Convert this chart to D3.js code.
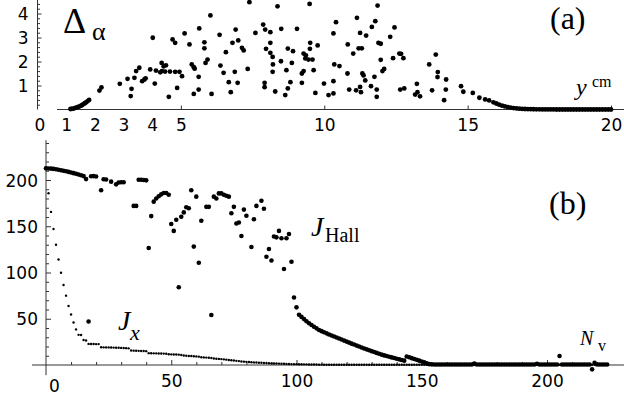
<!DOCTYPE html>
<html><head><meta charset="utf-8">
<script src="https://cdn.jsdelivr.net/npm/d3@7"></script>
<style>
body{margin:0;background:#fff;}
svg{display:block;}
.tick text{font-family:"DejaVu Sans",sans-serif;font-size:17px;fill:#000;}
.lbl{font-family:"Liberation Serif","Times New Roman",serif;fill:#000;}
</style></head>
<body>
<svg id="c" width="624" height="396"></svg>
<script>
// ---------- DATA ----------
// Panel (a): Delta_alpha vs y (cm)
const deltaPts = [
 [1.15,0.02],[1.2,0.03],[1.25,0.04],[1.3,0.06],[1.35,0.08],[1.4,0.1],[1.45,0.12],[1.5,0.15],[1.55,0.18],[1.6,0.22],[1.65,0.26],[1.7,0.3],[1.75,0.35],[1.8,0.4],
 [2.16,0.79],[2.23,0.92],[2.87,1.07],[3.14,1.28],[3.28,0.86],[3.25,0.56],[3.38,1.32],[3.44,1.6],[3.55,1.74],[3.65,1.18],[3.73,1.25],[3.77,1.3],
 [3.93,1.67],[4.02,2.99],[4.09,1.08],[4.13,1.62],[4.28,1.55],[4.33,1.94],[4.34,1.6],[4.4,1.8],[4.45,1.58],[4.48,1.84],[4.58,0.53],[4.62,1.58],
 [4.71,2.92],[4.8,2.78],[4.8,1.57],[4.87,0.9],[4.95,1.57],[5.04,1.39],[5.13,3.17],[5.3,2.71],[5.38,1.88],[5.45,1.76],[5.48,1.7],[5.45,0.65],
 [5.62,1.36],[5.62,0.83],[5.64,3.38],[5.82,2.8],[5.82,2.55],[5.86,1.94],[5.93,2.08],[6.03,3.92],[6.07,0.65],[6.35,3.11],[6.38,1.83],[6.49,1.53],
 [6.57,2.39],[6.67,1.14],[6.74,0.72],[6.8,2.78],[6.88,1.57],[6.91,3.33],[6.98,1.11],[7.0,2.88],[7.13,2.57],[7.19,2.46],[7.33,1.69],[7.39,4.47],
 [7.6,3.19],[7.87,3.54],[7.92,1.11],[7.92,0.93],[7.94,3.33],[7.97,2.53],[8.12,3.22],[8.12,2.78],[8.12,2.36],[8.2,2.19],[8.21,1.88],[8.2,1.57],
 [8.29,0.75],[8.37,4.3],[8.49,2.01],[8.5,3.36],[8.64,0.6],[8.68,1.64],[8.73,2.54],[8.73,0.88],[8.82,1.14],[8.87,1.94],[8.91,2.43],[9.05,3.36],
 [9.22,1.11],[9.22,1.5],[9.28,1.6],[9.28,2.33],[9.34,2.13],[9.36,2.25],[9.45,2.08],[9.49,4.4],[9.5,2.53],[9.51,2.78],[9.59,2.08],[9.63,1.64],
 [9.69,0.69],[9.77,2.67],[9.99,1.08],[10.15,0.6],[10.32,0.67],[10.32,1.18],[10.32,3.17],[10.41,3.64],[10.35,1.88],[10.53,1.81],[10.82,2.71],
 [10.81,1.5],[10.87,0.83],[11.01,2.33],[11.11,0.8],[11.14,3.82],[11.2,2.55],[11.25,0.94],[11.28,0.72],[11.25,3.19],[11.31,2.55],[11.33,1.5],
 [11.37,1.42],[11.43,1.21],[11.46,3.08],[11.63,0.97],[11.66,3.44],[11.75,1.36],[11.78,3.68],[11.83,0.83],[11.83,0.53],[11.86,4.33],[11.89,2.78],
 [11.97,2.74],[11.97,2.07],[12.03,1.6],[12.09,1.69],[12.3,3.03],[12.4,2.14],[12.45,3.42],[12.62,2.33],[12.68,2.32],[12.76,2.14],[12.65,0.83],
 [12.79,0.88],[13.23,1.07],[13.17,0.62],[13.25,0.72],[13.34,0.55],[13.66,1.88],[13.76,0.8],[13.89,2.29],[13.96,1.56],[13.95,1.35],[14.25,1.25],
 [14.24,0.83],[14.18,0.39],[14.77,0.97],[14.85,0.74],[15.18,0.69],[15.41,0.49],[15.61,0.42],[15.75,0.38],
 [15.9,0.3],[16.0,0.25],[16.1,0.2],[16.2,0.16],[16.3,0.13],[16.4,0.1],[16.5,0.08],[16.6,0.06],[16.7,0.045],[16.8,0.035],[16.9,0.025],[17.0,0.02],
 [17.1,0.015],[17.2,0.012],[17.3,0.01],[17.4,0.008],[17.5,0.006],[17.6,0.005],[17.7,0.004],[17.8,0.003],[17.9,0.002],[18.0,0.002],[18.1,0.001],
 [18.2,0.001],[18.3,0.001],[18.4,0],[18.5,0],[18.6,0],[18.7,0],[18.8,0],[18.9,0],[19.0,0],[19.1,0],[19.2,0],[19.3,0],[19.4,0],[19.5,0],
 [19.6,0],[19.7,0],[19.8,0],[19.9,0],[20.0,0]
];
// Panel (b): J_Hall and J_x vs N_v (index = N_v)
const hallVals = [
 212.6,212.5,212.3,212.0,211.6,211.1,210.6,210.0,209.4,208.8,208.1,207.4,206.7,205.9,205.1,204.2,201.0,47,204.0,204.2,
 203.8,null,189,200.8,200.6,null,198.2,null,195.3,197.3,197.6,197.5,null,null,null,172,172,200.2,200.2,200,
 199.6,126.5,161,176.6,180,182.5,184.5,186,186,184,152.4,145,157,84,160.3,165,170.5,169.5,189,128,
 182,110.5,156,null,171,171,54,182,180,185.5,185.5,184,183,182,164,171,153,154,139.5,168,
 161.4,null,127.6,157.5,172,null,177.6,169,117,125.4,113,139,138,145,137,103.8,137,141.6,111.7,73,
 62.3,54.4,52,49.6,47.3,45.2,43.3,41.4,39.6,37.9,36.6,35.4,34.2,33.0,31.9,30.8,29.7,28.6,27.5,26.4,
 25.3,24.2,23.1,22.1,21.0,20.0,19.0,17.9,16.9,16.0,15.0,14.1,13.1,12.2,11.2,10.4,9.7,9.0,8.2,7.5,
 6.8,6.1,5.4,4.7,9.2,8.3,7.4,6.5,5.6,4.7,3.8,2.9,1.8,0.9,0.7,0.6,0.6,0.6,0.6,0.6,
 0.6,0.6,0.6,0.6,0.6,0.6,0.6,0.6,0.6,0.6,0.6,1.5,0.6,0.6,0.6,0.6,0.6,0.6,0.6,0.6,
 0.6,0.6,0.6,0.6,0.6,0.6,0.6,0.6,0.6,0.6,0.6,0.6,0.6,0.6,0.6,0.6,1.3,0.6,0.6,0.6,
 0.6,0.6,0.6,0.6,0.6,9.7,0.6,0.6,0.6,0.6,0.6,0.6,0.6,0.6,0.6,0.6,0.6,0.6,-4.7,2.5,
 0.6,0.6,0.6,0.6,0.6
];
const jxVals = [
 212,185.6,165.5,147,130,114,99.8,86.5,75,63.8,54.6,46,38.5,32.6,32.4,27,26.5,22.8,22.7,22.7,
 22.6,22.6,19.2,19.1,19,19,18.9,18.8,18.7,18.6,18.5,18.4,18.2,18,15.6,15.5,15.4,15.3,15.2,15.1,
 15,12.8,12.7,12.6,12.6,12.5,12.4,12.3,12.2,11.6,11.5,11.4,11.3,11.2,10.8,10.2,10,9.8,9.7,9.5,
 9.3,9.0,8.4,8.2,8.0,7.8,7.5,7,6.8,6.6,6.4,6.1,5.8,5.4,5.1,4.8,4.5,4.2,3.8,3.6,
 3.4,3.2,3.0,2.8,2.7,2.5,2.4,2.2,2.1,1.9,1.8,1.7,1.6,1.5,1.4,1.3,1.2,1.1,1.0,0.9,
 0.9,0.8,0.8,0.7,0.7,0.6,0.6,0.5,0.5,0.4,0.4,0.3,0.3,0.3,0.3,0.3,0.3,0.3,0.3,0.3,
 0.3,0.3,0.3,0.3,0.3,0.3,0.3,0.3,0.3,0.3,0.3,0.3,0.3,0.3,0.3,0.3,0.3,0.3,0.3,0.3,
 0.3,0.3,0.3,0.3,0.3,0.3,0.3,0.3,0.3,0.3,0.3,0.3,0.3,0.3,0.3,0.3,0.3,0.3,0.3,0.3,
 0.3,0.3,0.3,0.3,0.3,0.3,0.3,0.3,0.3,0.3,0.3,0.3,0.3,0.3,0.3,0.3,0.3,0.3,0.3,0.3,
 0.3,0.3,0.3,0.3,0.3,0.3,0.3,0.3,0.3,0.3,0.3,0.3,0.3,0.3,0.3,0.3,0.3,0.3,0.3,0.3,
 0.3,0.3,0.3,0.3,0.3,0.3,0.3,0.3,0.3,0.3,0.3,0.3,0.3,0.3,0.3,0.3,0.3,0.3,0.3,0.3,
 0.3,0.3,0.3,0.3,0.3
];
const topXTicks = [0,1,2,3,4,5,10,15,20];
const topXMarked = [5,10,15,20];
const topYTicks = [1,2,3,4];
const botXTicks = [0,50,100,150,200];
const botYTicks = [50,100,150,200];

// ---------- DRAW ----------
const svg = d3.select("#c");
const axisCol = "#333";

// Panel (a) scales
const xA = d3.scaleLinear().domain([0,20]).range([37.5,611]);
const yA = d3.scaleLinear().domain([0,4]).range([109.5,13.5]);
// Panel (b) scales
const xB = d3.scaleLinear().domain([0,200]).range([46,547]);
const yB = d3.scaleLinear().domain([0,200]).range([365,180]);

function styleAxis(g){
  g.select(".domain").remove();
  g.selectAll(".tick line").attr("stroke",axisCol);
}

// ---- panel (a) axes ----
svg.append("line").attr("x1",xA(0.68)).attr("x2",624).attr("y1",yA(0)).attr("y2",yA(0)).attr("stroke",axisCol);
svg.append("line").attr("x1",xA(0)).attr("x2",xA(0)).attr("y1",yA(4.6)).attr("y2",yA(0)).attr("stroke",axisCol);

const gxA = svg.append("g").attr("transform",`translate(0,${yA(0)})`)
  .call(d3.axisBottom(xA).tickValues(topXTicks).tickFormat(d3.format("d")).tickSize(-4));
styleAxis(gxA);
gxA.selectAll(".tick line").filter(d=>!topXMarked.includes(d)).remove();
gxA.selectAll(".tick text").attr("y",21.5).attr("dy",null);
gxA.selectAll(".tick").filter(d=>d===0).select("text").attr("dx",2);

const gyA = svg.append("g").attr("transform",`translate(${xA(0)},0)`)
  .call(d3.axisLeft(yA).tickValues(topYTicks).tickFormat(d3.format("d")).tickSizeInner(-4).tickSizeOuter(0).tickPadding(9));
styleAxis(gyA);
gyA.selectAll(".tick text").attr("dy","0.36em");
const gyAm = svg.append("g").attr("transform",`translate(${xA(0)},0)`)
  .call(d3.axisLeft(yA).tickValues(d3.range(0.2,4.6,0.2).filter(v=>Math.abs(v-Math.round(v))>0.01)).tickFormat("").tickSize(-2.5));
styleAxis(gyAm);

// ---- panel (a) points ----
svg.append("g").selectAll("circle").data(deltaPts).join("circle")
  .attr("cx",d=>xA(d[0])).attr("cy",d=>yA(d[1])).attr("r",2.4).attr("fill","#000");

// ---- panel (b) axes ----
svg.append("line").attr("x1",xB(-5.6)).attr("x2",624).attr("y1",yB(0)).attr("y2",yB(0)).attr("stroke",axisCol);
svg.append("line").attr("x1",xB(0)).attr("x2",xB(0)).attr("y1",yB(243)).attr("y2",yB(-11)).attr("stroke",axisCol);

const gxB = svg.append("g").attr("transform",`translate(0,${yB(0)})`)
  .call(d3.axisBottom(xB).tickValues(botXTicks).tickFormat(d3.format("d")).tickSize(-5));
styleAxis(gxB);
gxB.selectAll(".tick line").filter(d=>d===0).remove();
gxB.selectAll(".tick text").attr("y",22).attr("dy",null);
gxB.selectAll(".tick").filter(d=>d===0).select("text").attr("dx",8).attr("y",27);
const gxBm = svg.append("g").attr("transform",`translate(0,${yB(0)})`)
  .call(d3.axisBottom(xB).tickValues(d3.range(10,230,10).filter(v=>v%50!==0)).tickFormat("").tickSize(-3));
styleAxis(gxBm);

const gyB = svg.append("g").attr("transform",`translate(${xB(0)},0)`)
  .call(d3.axisLeft(yB).tickValues(botYTicks).tickFormat(d3.format("d")).tickSizeInner(-5).tickSizeOuter(0).tickPadding(8));
styleAxis(gyB);
gyB.selectAll(".tick text").attr("dy","0.36em");
const gyBm = svg.append("g").attr("transform",`translate(${xB(0)},0)`)
  .call(d3.axisLeft(yB).tickValues(d3.range(10,250,10).filter(v=>v%50!==0)).tickFormat("").tickSize(-3));
styleAxis(gyBm);

// ---- panel (b) points ----
const jxData = jxVals.map((v,i)=>[i,v]);
const hallData = hallVals.map((v,i)=>[i,v]).filter(d=>d[1]!==null);
svg.append("g").selectAll("circle").data(jxData).join("circle")
  .attr("cx",d=>xB(d[0])).attr("cy",d=>yB(d[1])).attr("r",1.2).attr("fill","#000");
svg.append("g").selectAll("circle").data(hallData).join("circle")
  .attr("cx",d=>xB(d[0])).attr("cy",d=>yB(d[1])).attr("r",2.3).attr("fill","#000");

// ---- labels ----
function lbl(x,y,size,txt,italic){
  return svg.append("text").attr("class","lbl").attr("x",x).attr("y",y)
    .attr("font-size",size).attr("font-style",italic?"italic":"normal").text(txt);
}
lbl(63,33,36,"Δ");
lbl(92,40,26,"α");
lbl(550,29,32,"(a)");
lbl(576,95,24,"y",true);
lbl(592,87,16,"cm");
lbl(549,214,32,"(b)");
lbl(311,236,28,"J",true);
lbl(325,242,20,"Hall");
lbl(118,330,28,"J",true);
lbl(130,340,22,"x",true);
lbl(580,345,20,"N",true);
lbl(598,351,16,"v");
</script>
</body></html>
